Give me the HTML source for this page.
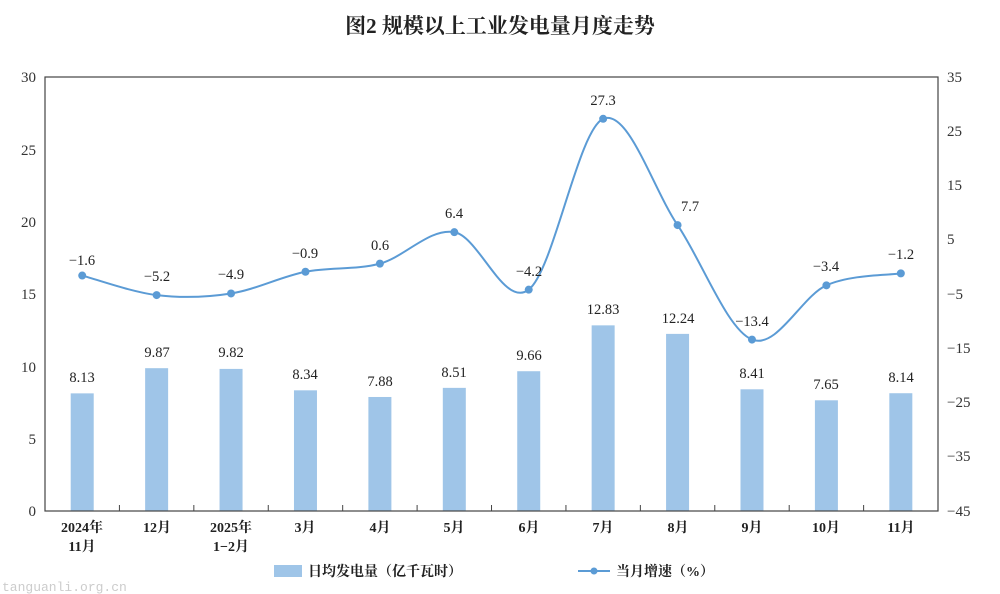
<!DOCTYPE html>
<html><head><meta charset="utf-8"><style>
body{margin:0;background:#fff;}
svg{display:block;font-family:"Liberation Serif","Noto Serif CJK SC",serif;}
</style></head><body>
<svg id="s" width="1000" height="594" viewBox="0 0 1000 594">
<text x="500" y="33" text-anchor="middle" font-size="21" font-weight="bold" fill="#222">图2 规模以上工业发电量月度走势</text>
<g id="bars" fill="#9fc5e8"></g>
<rect x="45" y="77" width="893" height="434" fill="none" stroke="#444" stroke-width="1.2"/>
<g id="ticks" stroke="#444" stroke-width="1"></g>
<g font-size="15" fill="#333" text-anchor="end">
<text x="36" y="82">30</text><text x="36" y="155">25</text><text x="36" y="227">20</text><text x="36" y="299">15</text><text x="36" y="372">10</text><text x="36" y="444">5</text><text x="36" y="516">0</text>
</g>
<g font-size="15" fill="#333" text-anchor="start">
<text x="947" y="82">35</text><text x="947" y="136">25</text><text x="947" y="190">15</text><text x="947" y="244">5</text><text x="947" y="299">−5</text><text x="947" y="353">−15</text><text x="947" y="407">−25</text><text x="947" y="461">−35</text><text x="947" y="516">−45</text>
</g>
<path id="ln" fill="none" stroke="#5b9bd5" stroke-width="2"/>
<g id="dots" fill="#5b9bd5"></g>
<g font-size="14.5" fill="#222" text-anchor="middle">
<text x="82" y="265">−1.6</text><text x="157" y="281">−5.2</text><text x="231" y="279">−4.9</text><text x="305" y="258">−0.9</text><text x="380" y="250">0.6</text><text x="454" y="218">6.4</text><text x="529" y="276">−4.2</text><text x="603" y="105">27.3</text><text x="690" y="211">7.7</text><text x="752" y="326">−13.4</text><text x="826" y="271">−3.4</text><text x="901" y="259">−1.2</text>
</g>
<g font-size="14.5" fill="#222" text-anchor="middle">
<text x="82" y="382">8.13</text><text x="157" y="357">9.87</text><text x="231" y="357">9.82</text><text x="305" y="379">8.34</text><text x="380" y="386">7.88</text><text x="454" y="377">8.51</text><text x="529" y="360">9.66</text><text x="603" y="314">12.83</text><text x="678" y="323">12.24</text><text x="752" y="378">8.41</text><text x="826" y="389">7.65</text><text x="901" y="382">8.14</text>
</g>
<g font-size="14" fill="#222" text-anchor="middle" font-weight="bold">
<text x="82" y="532">2024年</text><text x="82" y="551">11月</text>
<text x="157" y="532">12月</text>
<text x="231" y="532">2025年</text><text x="231" y="551">1−2月</text>
<text x="305" y="532">3月</text><text x="380" y="532">4月</text><text x="454" y="532">5月</text><text x="529" y="532">6月</text><text x="603" y="532">7月</text><text x="678" y="532">8月</text><text x="752" y="532">9月</text><text x="826" y="532">10月</text><text x="901" y="532">11月</text>
</g>
<rect x="274" y="565" width="28" height="12" fill="#9fc5e8"/>
<text x="308" y="576" font-size="14" font-weight="bold" fill="#222">日均发电量（亿千瓦时）</text>
<line x1="578" y1="571" x2="610" y2="571" stroke="#5b9bd5" stroke-width="2"/>
<circle cx="594" cy="571" r="3.5" fill="#5b9bd5"/>
<text x="616" y="576" font-size="14" font-weight="bold" fill="#222">当月增速（%）</text>
<text x="2" y="591" font-size="13" fill="#ccc" font-family="Liberation Mono,monospace">tanguanli.org.cn</text>
</svg>
<script>
var g=[-1.6,-5.2,-4.9,-0.9,0.6,6.4,-4.2,27.3,7.7,-13.4,-3.4,-1.2];
var b=[8.13,9.87,9.82,8.34,7.88,8.51,9.66,12.83,12.24,8.41,7.65,8.14];
var ns="http://www.w3.org/2000/svg",P=[],i;
function el(t,a,p){var e=document.createElementNS(ns,t);for(var k in a)e.setAttribute(k,a[k]);document.getElementById(p).appendChild(e);}
for(i=0;i<12;i++){var x=45+74.42*(i+0.5);P.push([x,77+(35-g[i])*5.425]);
var h=b[i]*14.47;el('rect',{x:x-11.5,y:511-h,width:23,height:h},'bars');
el('circle',{cx:x,cy:P[i][1],r:4},'dots');
if(i>0)el('line',{x1:45+74.42*i,y1:511,x2:45+74.42*i,y2:505},'ticks');}
var d='M'+P[0][0]+','+P[0][1];
for(i=0;i<11;i++){var p0=P[i-1]||P[i],p1=P[i],p2=P[i+1],p3=P[i+2]||P[i+1];
d+=' C'+(p1[0]+(p2[0]-p0[0])/6)+','+(p1[1]+(p2[1]-p0[1])/6)+' '+(p2[0]-(p3[0]-p1[0])/6)+','+(p2[1]-(p3[1]-p1[1])/6)+' '+p2[0]+','+p2[1];}
document.getElementById('ln').setAttribute('d',d);
</script>
</body></html>
